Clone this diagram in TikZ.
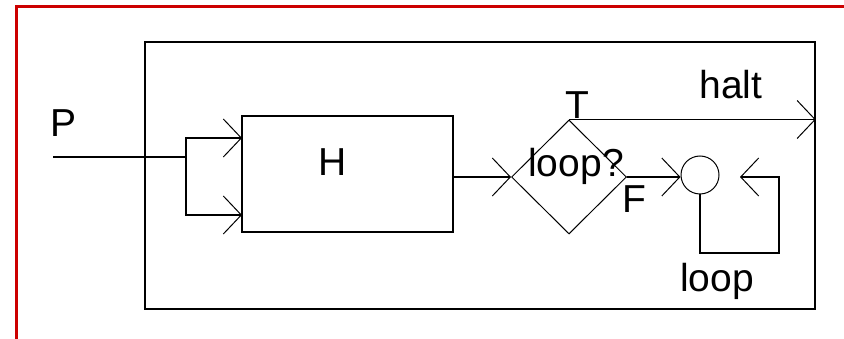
\documentclass[tikz,border=0pt]{standalone}
\usepackage{fontspec}
\setmainfont{Liberation Sans}
\usetikzlibrary{arrows.meta,shapes.geometric}
\definecolor{frame}{RGB}{204,0,0}
\begin{document}
\begin{tikzpicture}[x=1pt,y=-1pt,
  thick line/.style={line width=1.6pt,draw=black},
  thin line/.style={line width=1pt,draw=black},
  arr/.style={-{Straight Barb[length=18pt,width=38pt,line width=1pt]}},
  lbl/.style={anchor=base,inner sep=0pt,font=\fontsize{39}{42}\selectfont}
]
\useasboundingbox (0,0) rectangle (844,339);
% red frame
\draw[frame,line width=2.6pt] (844,6.5) -- (16.5,6.5) -- (16.5,339);
% outer box
\node[thick line,rectangle,minimum width=670pt,minimum height=267pt,inner sep=0pt] (outer) at (480,175.5) {};
% H box
\node[thick line,rectangle,minimum width=211pt,minimum height=116pt,inner sep=0pt] (H) at (347.5,174) {};
\node[lbl] (Htext) at (333,176) {H};
% diamond
\node[thin line,diamond,minimum width=115pt,minimum height=114pt,inner sep=0pt] (d) at (569,177) {};
\node[lbl] (dtext) at (576,177) {loop?};
% circle
\node[thin line,circle,minimum size=38pt,inner sep=0pt] (c) at (700,175) {};
% labels
\node[lbl] (P) at (64,137) {P};
\node[lbl] (T) at (577,119) {T};
\node[lbl] (halt) at (731,99) {halt};
\node[lbl] (F) at (634,213) {F};
\node[lbl] (looplbl) at (717,291) {loop};
% coordinates
\coordinate (pin) at (53,157);
\coordinate (fork) at (186,157);
\coordinate (hin1) at (242,138);
\coordinate (hin2) at (242,215);
\coordinate (lc) at (779,253);
\coordinate (lb) at (740,177);
% connectors
\draw[thick line] (pin) -- (fork);
\draw[thick line,arr] (fork) |- (hin1);
\draw[thick line,arr] (fork) |- (hin2);
\draw[thick line,arr] (H.east |- d.west) -- (d.west);
\draw[thick line,arr] (d.north) -- (d.north -| outer.east);
\draw[thick line,arr] (d.east) -- (d.east -| c.west);
\draw[thick line,arr] (c.south) |- (lc) |- (lb);
\end{tikzpicture}
\end{document}
